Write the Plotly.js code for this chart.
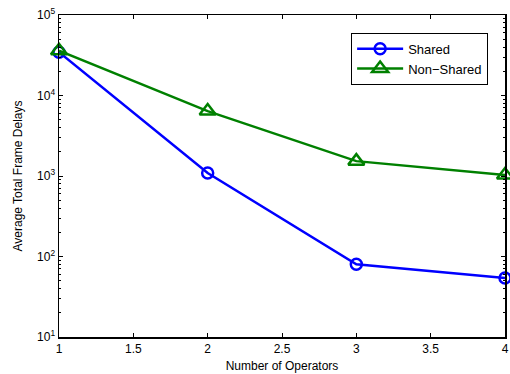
<!DOCTYPE html>
<html><head><meta charset="utf-8">
<script src="https://cdn.plot.ly/plotly-3.0.1.min.js"></script>
<style>html,body{margin:0;padding:0;background:#fff}</style>
</head><body>
<div id="chart" style="width:510px;height:374px"></div>
<script>
const operators = [1, 2, 3, 4];
const shared = [34500, 1090, 80, 54];
const nonShared = [36000, 6400, 1530, 1030];
const seriesNames = ["Shared", "Non\u2212Shared"];
const xTickVals = [1, 1.5, 2, 2.5, 3, 3.5, 4];
const xTickText = ["1", "1.5", "2", "2.5", "3", "3.5", "4"];
const yTickVals = [10, 100, 1000, 10000, 100000];
const yTickText = ["10<sup>1</sup>", "10<sup>2</sup>", "10<sup>3</sup>", "10<sup>4</sup>", "10<sup>5</sup>"];

const font = {family: "Liberation Sans, Arial, sans-serif", size: 12, color: "#000"};

const traces = [
  {x: operators, y: shared, name: seriesNames[0], mode: "lines+markers", cliponaxis: false,
   line: {color: "#0000ff", width: 2.5},
   marker: {symbol: "circle-open", size: 11, color: "#0000ff", line: {width: 2.5, color: "#0000ff"}}},
  {x: operators, y: nonShared, name: seriesNames[1], mode: "lines+markers", cliponaxis: false,
   line: {color: "#008000", width: 2.5},
   marker: {symbol: "triangle-up-open", size: 14, color: "#008000", line: {width: 2.5, color: "#008000"}}}
];

const layout = {
  width: 510, height: 374,
  margin: {l: 59, r: 5, t: 15, b: 37},
  paper_bgcolor: "#fff", plot_bgcolor: "#fff",
  font: font,
  showlegend: true,
  legend: {x: 0.655, y: 0.945, xanchor: "left", yanchor: "top", bgcolor: "#fff",
           bordercolor: "#000", borderwidth: 1, font: {family: font.family, size: 13, color: "#000"},
           itemwidth: 46, tracegroupgap: 0},
  xaxis: {range: [1, 4], tickvals: xTickVals, ticktext: xTickText, ticks: "inside", ticklen: 4,
          tickcolor: "#000", showline: true, linecolor: "#000", linewidth: 1.5, mirror: "ticks",
          showgrid: false, zeroline: false, tickfont: {size: 12},
          title: {text: "Number of Operators", font: {size: 12}, standoff: 6}},
  yaxis: {type: "log", range: [1, 5], tickvals: yTickVals, ticktext: yTickText, ticks: "inside", ticklen: 4,
          tickcolor: "#000", showline: true, linecolor: "#000", linewidth: 1.5, mirror: "ticks",
          showgrid: false, zeroline: false, tickfont: {size: 12},
          minor: {ticks: "inside", ticklen: 2, tickcolor: "#000", dtick: "D1", showgrid: false},
          title: {text: "Average Total Frame Delays", font: {size: 12}, standoff: 12}}
};

Plotly.newPlot("chart", traces, layout, {displayModeBar: false, staticPlot: true});
</script>
</body></html>
